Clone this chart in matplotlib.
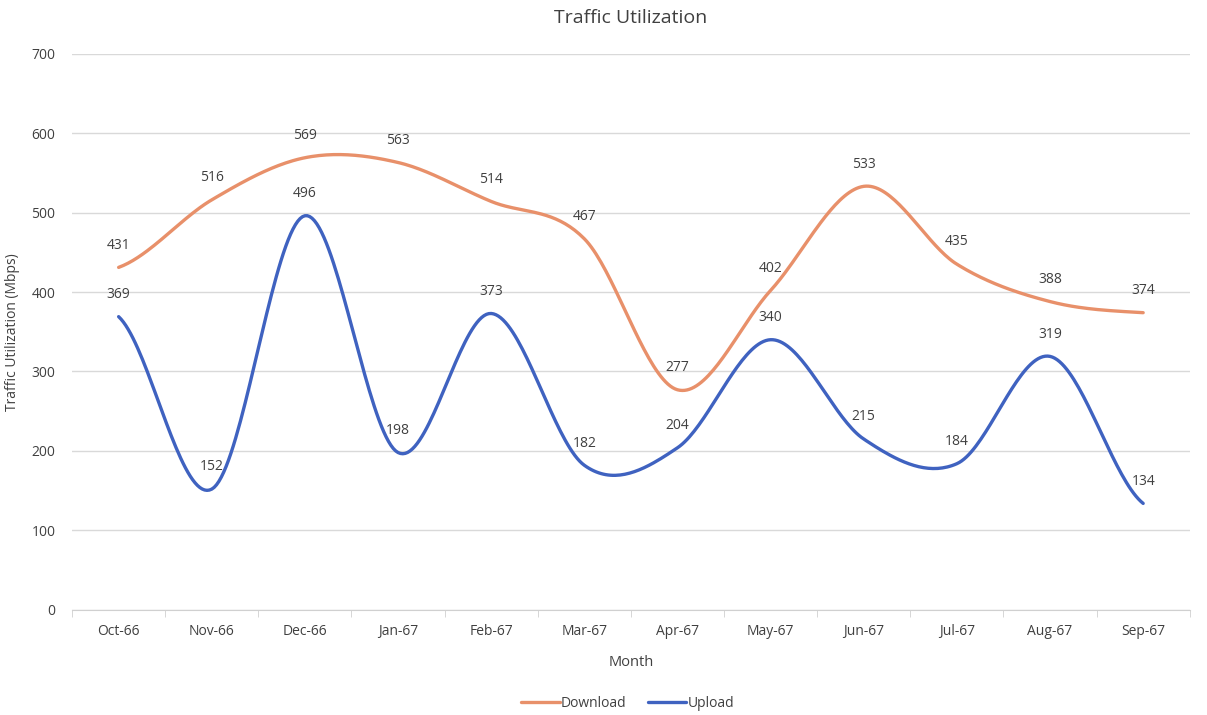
import numpy as np
import matplotlib.pyplot as plt

months = ["Oct-66", "Nov-66", "Dec-66", "Jan-67", "Feb-67", "Mar-67",
          "Apr-67", "May-67", "Jun-67", "Jul-67", "Aug-67", "Sep-67"]
download = [431, 516, 569, 563, 514, 467, 277, 402, 533, 435, 388, 374]
upload = [369, 152, 496, 198, 373, 182, 204, 340, 215, 184, 319, 134]

plt.rcParams['font.family'] = ['Open Sans', 'DejaVu Sans']


def smooth(y, n=40, t=0.5):
    # Catmull-Rom style smoothing, like the Excel "smoothed line" option
    y = np.asarray(y, dtype=float)
    x = np.arange(len(y), dtype=float)
    xs, ys = [], []
    for i in range(len(y) - 1):
        p0 = y[i - 1] if i > 0 else y[i]
        p3 = y[i + 2] if i + 2 < len(y) else y[i + 1]
        m1 = t * (y[i + 1] - p0)
        m2 = t * (p3 - y[i])
        s = np.linspace(0, 1, n)
        h00 = 2 * s**3 - 3 * s**2 + 1
        h10 = s**3 - 2 * s**2 + s
        h01 = -2 * s**3 + 3 * s**2
        h11 = s**3 - s**2
        xs.append(x[i] + s)
        ys.append(h00 * y[i] + h10 * m1 + h01 * y[i + 1] + h11 * m2)
    return np.concatenate(xs), np.concatenate(ys)


fig = plt.figure(figsize=(12.07, 7.15), dpi=100)
ax = fig.add_axes([0.0597, 0.147, 0.926, 0.778])

c_down = "#E8906A"
c_up = "#3F62C0"
x = np.arange(len(months))

for vals, col, name in [(download, c_down, "Download"), (upload, c_up, "Upload")]:
    sx, sy = smooth(vals)
    ax.plot(sx, sy, color=col, lw=2.4, label=name, solid_capstyle="round")
    for xi, v in zip(x, vals):
        ax.annotate(str(v), (xi, v), xytext=(0, 16), textcoords="offset points",
                    ha="center", va="center", fontsize=10, color="#404040")

ax.set_xlim(-0.5, len(months) - 0.5)
ax.set_ylim(0, 700)
ax.set_yticks(range(0, 701, 100))
ax.set_xticks(x)
ax.set_xticklabels(months)
ax.set_xticks(np.arange(-0.5, len(months), 1), minor=True)
ax.tick_params(axis="x", which="major", length=0, labelsize=10, colors="#404040", pad=10)
ax.tick_params(axis="x", which="minor", length=5, color="#d0d0d0")
ax.tick_params(axis="y", length=0, labelsize=10, colors="#404040", pad=12)
ax.grid(axis="y", color="#d9d9d9", lw=1)
ax.set_axisbelow(True)
for s in ["top", "right", "left"]:
    ax.spines[s].set_visible(False)
ax.spines["bottom"].set_color("#d0d0d0")

ax.set_title("Traffic Utilization", fontsize=14, color="#404040", pad=22)
ax.set_xlabel("Month", fontsize=10.5, color="#404040", labelpad=12)
ax.set_ylabel("Traffic Utilization (Mbps)", fontsize=10, color="#404040", labelpad=8)

fig.legend(loc="lower center", bbox_to_anchor=(0.52, -0.012), ncol=2, frameon=False,
           fontsize=10, handlelength=2.8, handletextpad=0.1, columnspacing=1.5,
           labelcolor="#404040")

fig.savefig("out.png", dpi=100)
